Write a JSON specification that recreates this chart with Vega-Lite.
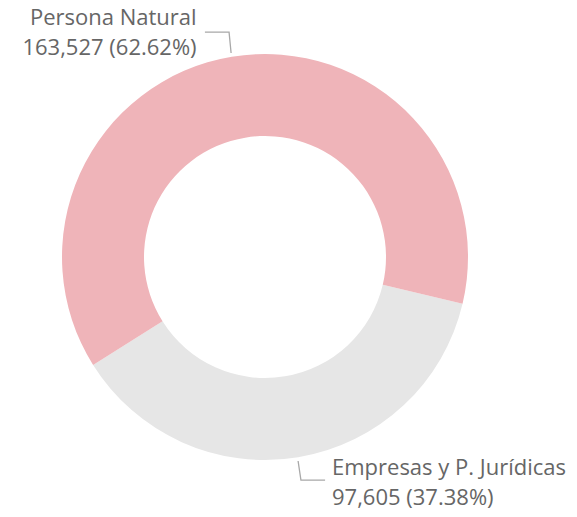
{
  "$schema": "https://vega.github.io/schema/vega-lite/v6.json",
  "width": 530,
  "height": 514,
  "autosize": "none",
  "padding": {"left": 0, "top": 0, "right": 47, "bottom": 3},
  "background": "white",
  "config": {"view": {"stroke": null}},
  "datasets": {
    "slices": [
      {"category": "Empresas y P. Jurídicas", "value": 97605, "order": 1},
      {"category": "Persona Natural", "value": 163527, "order": 2}
    ],
    "leaders": [
      {"category": "Persona Natural", "step": 1, "x": -0.296, "y": 1.108},
      {"category": "Persona Natural", "step": 2, "x": -0.177, "y": 1.108},
      {"category": "Persona Natural", "step": 3, "x": -0.167, "y": 1.005},
      {"category": "Empresas y P. Jurídicas", "step": 1, "x": 0.163, "y": -1.005},
      {"category": "Empresas y P. Jurídicas", "step": 2, "x": 0.177, "y": -1.099},
      {"category": "Empresas y P. Jurídicas", "step": 3, "x": 0.296, "y": -1.099}
    ],
    "labels": [
      {"category": "Persona Natural", "side": "left", "text": "Persona Natural\n163,527 (62.62%)", "x": -0.337, "y": 1.175},
      {"category": "Empresas y P. Jurídicas", "side": "right", "text": "Empresas y P. Jurídicas\n97,605 (37.38%)", "x": 0.33, "y": -1.037}
    ]
  },
  "layer": [
    {
      "data": {"name": "slices"},
      "mark": {"type": "arc", "innerRadius": 121, "outerRadius": 203},
      "encoding": {
        "theta": {"field": "value", "type": "quantitative", "stack": true, "scale": {"range": [1.803, 8.0862]}},
        "color": {"field": "category", "type": "nominal", "scale": {"domain": ["Empresas y P. Jurídicas", "Persona Natural"], "range": ["#E6E6E6", "#EFB4B9"]}, "legend": null},
        "order": {"field": "order", "type": "quantitative"}
      }
    },
    {
      "data": {"name": "leaders"},
      "mark": {"type": "line", "color": "#A8A8A8", "strokeWidth": 1.3},
      "encoding": {
        "x": {"field": "x", "type": "quantitative", "scale": {"domain": [-1.3054, 1.3054], "nice": false, "zero": false}, "axis": null},
        "y": {"field": "y", "type": "quantitative", "scale": {"domain": [-1.266, 1.266], "nice": false, "zero": false}, "axis": null},
        "detail": {"field": "category", "type": "nominal"},
        "order": {"field": "step", "type": "quantitative"}
      }
    },
    {
      "data": {"name": "labels"},
      "transform": [{"filter": "datum.side == 'left'"}],
      "mark": {"type": "text", "align": "right", "baseline": "middle", "lineBreak": "\n", "lineHeight": 30, "font": "Open Sans", "fontSize": 22, "color": "#666666"},
      "encoding": {
        "x": {"field": "x", "type": "quantitative"},
        "y": {"field": "y", "type": "quantitative"},
        "text": {"field": "text", "type": "nominal"}
      }
    },
    {
      "data": {"name": "labels"},
      "transform": [{"filter": "datum.side == 'right'"}],
      "mark": {"type": "text", "align": "left", "baseline": "middle", "lineBreak": "\n", "lineHeight": 30, "font": "Open Sans", "fontSize": 22, "color": "#666666"},
      "encoding": {
        "x": {"field": "x", "type": "quantitative"},
        "y": {"field": "y", "type": "quantitative"},
        "text": {"field": "text", "type": "nominal"}
      }
    }
  ]
}
